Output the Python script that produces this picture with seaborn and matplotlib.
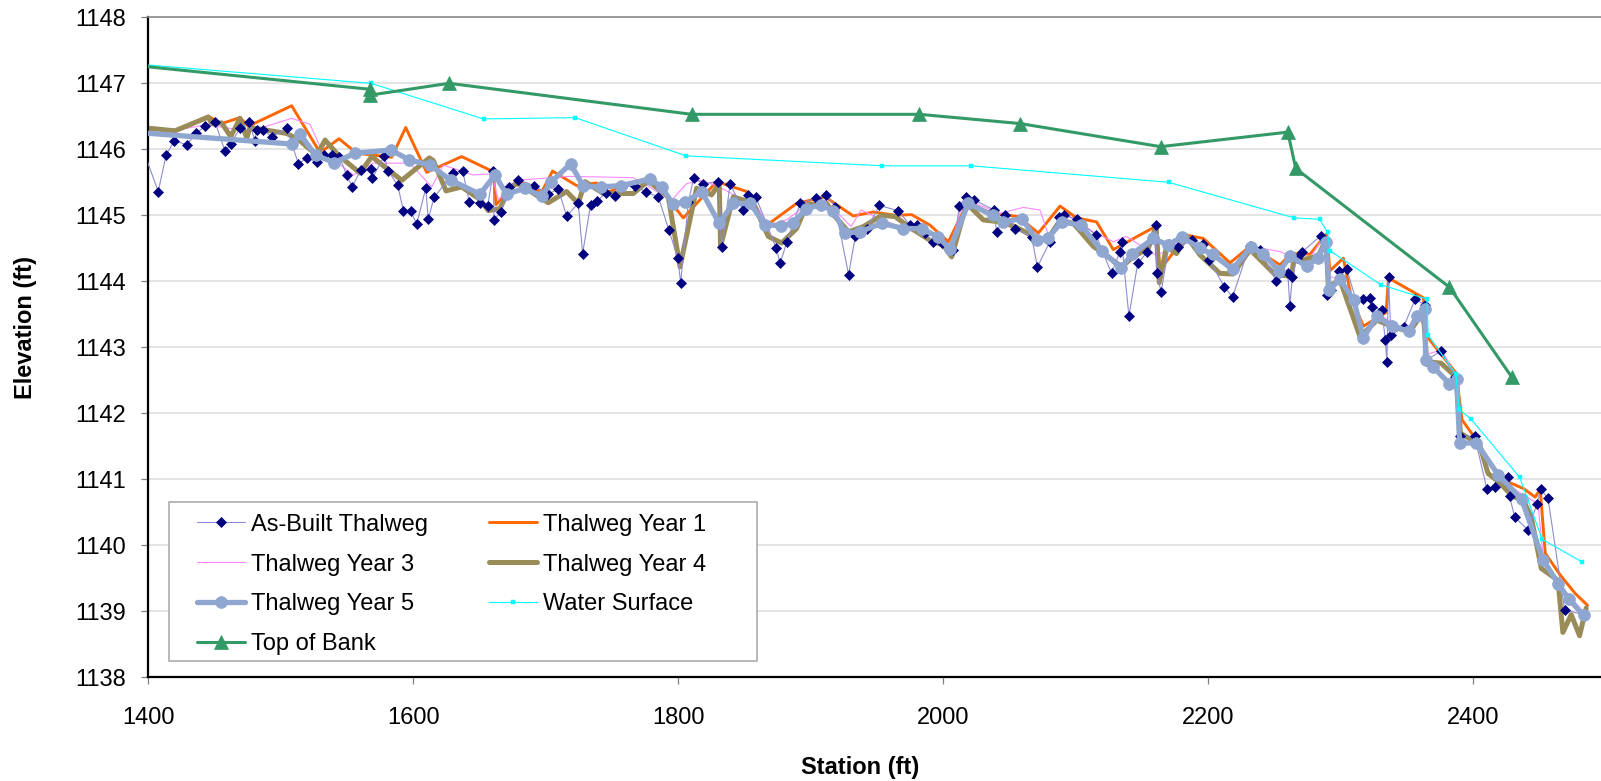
import matplotlib
matplotlib.use("Agg")
import matplotlib.pyplot as plt
import numpy as np
import pandas as pd
import seaborn as sns
from matplotlib.patches import Rectangle

# ---------------- survey data (station ft, elevation ft) ----------------
asbuilt_sta = [1396, 1407.5, 1413.4, 1419.6, 1429.0, 1436.0, 1442.8, 1450.3, 1457.9, 1462.2,
               1469.2, 1476.2, 1480.5, 1481.8, 1486.8, 1493.1, 1504.5, 1513.3, 1519.6, 1527.1,
               1532.8, 1538.9, 1544.2, 1549.7, 1553.9, 1560.3, 1568.0, 1569.0, 1578.1, 1581.1,
               1588.2, 1592.5, 1598.0, 1602.6, 1609.4, 1611.3, 1615.6, 1630.2, 1637.3, 1642.3,
               1650.3, 1656.1, 1660.4, 1660.9, 1666.0, 1672.5, 1679.2, 1691.1, 1701.9, 1709.4,
               1715.7, 1724.5, 1727.8, 1733.8, 1738.9, 1745.4, 1752.2, 1757.2, 1767.3, 1775.6,
               1784.9, 1793.0, 1799.5, 1801.8, 1807.6, 1811.5, 1819.0, 1830.3, 1832.8, 1839.1,
               1848.7, 1852.5, 1858.5, 1873.9, 1876.9, 1881.9, 1892.0, 1904.1, 1911.7, 1918.5,
               1928.5, 1933.6, 1942.3, 1951.7, 1965.8, 1974.6, 1980.1, 1986.2, 1992.5, 1998.7,
               2007.5, 2012.1, 2017.1, 2023.4, 2038.5, 2040.2, 2046.8, 2054.1, 2066.7, 2071.0,
               2080.5, 2087.5, 2091.3, 2100.6, 2115.2, 2127.0, 2133.3, 2134.6, 2140.1, 2146.7,
               2154.0, 2160.6, 2161.0, 2164.4, 2170.6, 2177.4, 2187.5, 2195.7, 2200.9, 2212.0,
               2218.3, 2231.1, 2239.2, 2251.2, 2260.0, 2261.5, 2263.5, 2266.9, 2270.5, 2284.8,
               2288.2, 2289.9, 2292.4, 2299.0, 2304.5, 2311.6, 2317.1, 2321.7, 2323.4, 2331.0,
               2333.6, 2334.8, 2336.0, 2337.8, 2347.4, 2356.2, 2363.8, 2364.5, 2375.9, 2386.0,
               2389.7, 2401.0, 2410.3, 2416.6, 2426.2, 2427.4, 2431.2, 2441.3, 2448.1, 2450.8,
               2456.4, 2468.9, 2483.3]
asbuilt_elev = [1146.00, 1145.36, 1145.91, 1146.13, 1146.07, 1146.24, 1146.35, 1146.42, 1145.97, 1146.08,
                1146.32, 1146.41, 1146.13, 1146.30, 1146.29, 1146.19, 1146.32, 1145.78, 1145.87, 1145.81,
                1145.91, 1145.91, 1145.89, 1145.61, 1145.43, 1145.69, 1145.70, 1145.56, 1145.90, 1145.67,
                1145.46, 1145.07, 1145.06, 1144.87, 1145.41, 1144.94, 1145.27, 1145.64, 1145.67, 1145.20,
                1145.19, 1145.14, 1145.67, 1144.93, 1145.05, 1145.43, 1145.54, 1145.45, 1145.32, 1145.40,
                1144.99, 1145.18, 1144.42, 1145.16, 1145.22, 1145.34, 1145.30, 1145.43, 1145.45, 1145.35,
                1145.28, 1144.77, 1144.36, 1143.98, 1145.20, 1145.56, 1145.48, 1145.51, 1144.52, 1145.48,
                1145.08, 1145.31, 1145.28, 1144.50, 1144.27, 1144.60, 1145.18, 1145.26, 1145.31, 1145.13,
                1144.10, 1144.68, 1144.79, 1145.15, 1145.07, 1144.86, 1144.86, 1144.73, 1144.60, 1144.58,
                1144.47, 1145.14, 1145.28, 1145.23, 1145.08, 1144.74, 1145.00, 1144.80, 1144.67, 1144.22,
                1144.60, 1144.98, 1145.01, 1144.94, 1144.70, 1144.12, 1144.45, 1144.60, 1143.47, 1144.27,
                1144.45, 1144.85, 1144.13, 1143.84, 1144.57, 1144.52, 1144.62, 1144.57, 1144.32, 1143.92,
                1143.76, 1144.54, 1144.48, 1144.00, 1144.13, 1143.63, 1144.07, 1144.36, 1144.44, 1144.69,
                1144.60, 1143.79, 1143.87, 1144.16, 1144.18, 1143.71, 1143.73, 1143.74, 1143.61, 1143.57,
                1143.11, 1142.78, 1144.06, 1143.18, 1143.31, 1143.73, 1143.64, 1142.80, 1142.95, 1142.55,
                1141.66, 1141.65, 1140.85, 1140.88, 1141.03, 1140.74, 1140.43, 1140.23, 1140.63, 1140.86,
                1140.71, 1139.02, 1138.95]

year1_sta = [1400, 1420.2, 1445.3, 1455.4, 1469.2, 1475.5, 1508.2, 1529.6, 1543.9, 1557.3,
             1583.7, 1594.3, 1610.1, 1636.5, 1660.4, 1662.4, 1678.0, 1696.8, 1705.1, 1723.3,
             1738.4, 1743.4, 1776.1, 1791.2, 1803.8, 1829.0, 1851.7, 1865.5, 1889.3, 1910.7,
             1932.1, 1947.2, 1963.6, 1976.1, 1990.0, 2003.8, 2017.6, 2037.7, 2056.6, 2071.7,
             2088.1, 2100.6, 2115.7, 2128.3, 2161.0, 2163.5, 2183.6, 2196.2, 2216.4, 2231.5,
             2254.1, 2262.8, 2276.7, 2289.3, 2291.8, 2301.9, 2308.2, 2317.1, 2334.2, 2336.0,
             2362.3, 2364.8, 2387.0, 2391.5, 2401.5, 2420.3, 2437.9, 2446.7, 2450.5, 2454.3,
             2465.6, 2476.9, 2486.2]
year1_elev = [1146.32, 1146.29, 1146.50, 1146.39, 1146.48, 1146.35, 1146.66, 1145.95, 1146.16, 1145.94,
              1145.88, 1146.33, 1145.65, 1145.89, 1145.66, 1145.16, 1145.53, 1145.35, 1145.67, 1145.45,
              1145.49, 1145.33, 1145.56, 1145.28, 1144.96, 1145.51, 1145.36, 1144.83, 1145.18, 1145.28,
              1144.99, 1145.05, 1145.00, 1145.01, 1144.85, 1144.60, 1145.16, 1145.03, 1144.98, 1144.73,
              1145.14, 1144.96, 1144.90, 1144.48, 1144.84, 1144.17, 1144.70, 1144.65, 1144.28, 1144.53,
              1144.25, 1144.42, 1144.41, 1144.72, 1144.16, 1144.35, 1143.73, 1143.32, 1143.53, 1144.05,
              1143.75, 1143.17, 1142.61, 1141.90, 1141.62, 1141.01, 1140.86, 1140.73, 1140.85, 1139.88,
              1139.55, 1139.27, 1139.09]

year3_sta = [1400, 1444.0, 1476.8, 1508.2, 1522.0, 1530.8, 1554.7, 1569.8, 1586.2, 1597.5,
             1613.9, 1622.6, 1645.3, 1659.2, 1664.2, 1678.0, 1717.7, 1766.0, 1795.0, 1806.3,
             1817.6, 1830.8, 1844.8, 1856.6, 1867.9, 1881.7, 1896.9, 1910.7, 1930.4, 1937.9,
             1954.3, 1967.3, 1990.0, 2005.0, 2013.8, 2023.9, 2042.8, 2060.4, 2073.0, 2079.3,
             2090.6, 2113.2, 2128.3, 2138.3, 2159.8, 2168.5, 2181.1, 2193.7, 2211.1, 2218.8,
             2231.5, 2254.1, 2274.2, 2285.5, 2291.8, 2300.7, 2309.5, 2318.3, 2330.8, 2349.7,
             2357.2, 2362.3, 2364.3, 2376.1, 2387.0, 2389.7, 2402.4, 2418.7, 2437.9, 2448.8,
             2452.7, 2464.0, 2475.4, 2484.0]
year3_elev = [1146.22, 1146.37, 1146.27, 1146.47, 1146.38, 1145.99, 1145.61, 1145.79, 1145.79, 1145.79,
              1145.43, 1145.76, 1145.61, 1145.63, 1145.23, 1145.53, 1145.59, 1145.57, 1145.23, 1145.48,
              1145.53, 1145.43, 1145.28, 1145.23, 1144.85, 1144.93, 1145.16, 1145.23, 1144.83, 1145.08,
              1144.93, 1144.83, 1144.65, 1144.50, 1145.13, 1145.18, 1145.03, 1145.12, 1145.08, 1144.70,
              1145.03, 1144.75, 1144.60, 1144.68, 1144.40, 1144.45, 1144.65, 1144.53, 1144.32, 1144.20,
              1144.53, 1144.45, 1144.27, 1144.63, 1144.07, 1144.02, 1143.62, 1143.16, 1143.47, 1143.24,
              1143.54, 1143.32, 1142.89, 1142.96, 1142.56, 1141.70, 1141.57, 1141.02, 1140.76, 1140.63,
              1139.83, 1139.42, 1139.17, 1138.97]

year4_sta = [1400, 1420.2, 1445.3, 1447.8, 1455.4, 1462.2, 1469.2, 1474.3, 1476.8, 1504.5,
             1513.8, 1527.1, 1533.4, 1543.5, 1559.8, 1568.6, 1591.3, 1612.1, 1615.1, 1624.7,
             1636.5, 1650.3, 1656.6, 1665.4, 1673.0, 1679.2, 1701.9, 1715.7, 1724.5, 1729.6,
             1743.4, 1766.0, 1777.3, 1792.4, 1801.3, 1813.8, 1825.1, 1830.9, 1831.9, 1841.5,
             1856.6, 1867.9, 1878.0, 1889.3, 1896.9, 1912.0, 1918.3, 1928.5, 1939.8, 1953.6,
             1963.7, 1973.7, 1990.0, 2000.0, 2006.3, 2017.6, 2030.2, 2042.8, 2054.1, 2067.9,
             2078.0, 2088.1, 2098.1, 2113.2, 2125.8, 2134.6, 2143.4, 2154.7, 2160.5, 2163.0,
             2168.5, 2176.0, 2183.6, 2193.7, 2208.8, 2218.8, 2231.5, 2250.0, 2262.9, 2264.9,
             2271.7, 2283.0, 2288.8, 2290.6, 2299.4, 2314.5, 2327.1, 2342.2, 2352.2, 2362.3,
             2364.8, 2375.6, 2387.0, 2390.3, 2404.8, 2411.1, 2418.6, 2429.9, 2437.5, 2443.7,
             2451.3, 2463.9, 2467.6, 2473.9, 2480.2, 2485.2]
year4_elev = [1146.32, 1146.28, 1146.49, 1146.39, 1146.40, 1146.19, 1146.47, 1146.17, 1146.33, 1146.24,
              1146.14, 1145.91, 1146.14, 1145.91, 1145.64, 1145.89, 1145.53, 1145.87, 1145.83, 1145.37,
              1145.43, 1145.24, 1145.07, 1145.10, 1145.43, 1145.48, 1145.19, 1145.36, 1145.18, 1145.51,
              1145.33, 1145.33, 1145.52, 1145.28, 1144.22, 1145.41, 1145.31, 1145.48, 1144.53, 1145.28,
              1145.18, 1144.68, 1144.58, 1144.80, 1145.16, 1145.18, 1144.98, 1144.75, 1144.83, 1145.00,
              1144.98, 1144.83, 1144.62, 1144.55, 1144.37, 1145.18, 1144.93, 1144.90, 1144.83, 1144.68,
              1144.62, 1144.92, 1144.88, 1144.53, 1144.35, 1144.22, 1144.37, 1144.50, 1144.83, 1143.98,
              1144.53, 1144.42, 1144.68, 1144.40, 1144.12, 1144.11, 1144.48, 1144.11, 1144.07, 1144.40,
              1144.33, 1144.38, 1144.64, 1143.92, 1144.02, 1143.16, 1143.41, 1143.29, 1143.24, 1143.54,
              1142.78, 1142.76, 1142.55, 1141.70, 1141.52, 1141.09, 1140.97, 1140.74, 1140.69, 1140.43,
              1139.65, 1139.47, 1138.68, 1138.95, 1138.63, 1139.05]

year5_sta = [1395, 1508.2, 1514.5, 1526.3, 1540.4, 1556.0, 1582.9, 1597.0, 1612.6, 1628.5,
             1650.3, 1661.6, 1670.4, 1684.3, 1696.8, 1704.3, 1718.7, 1728.3, 1741.4, 1756.8,
             1778.7, 1787.5, 1795.8, 1805.1, 1817.7, 1830.8, 1841.6, 1854.2, 1865.5, 1877.3,
             1886.8, 1896.4, 1907.7, 1917.0, 1925.8, 1937.1, 1953.5, 1969.8, 1983.6, 1996.2,
             2005.0, 2018.9, 2037.2, 2045.3, 2059.1, 2071.0, 2078.8, 2089.4, 2104.0, 2119.6,
             2134.2, 2142.3, 2158.6, 2169.4, 2180.0, 2193.9, 2203.2, 2218.3, 2232.0, 2241.5,
             2253.5, 2262.0, 2274.2, 2283.0, 2288.8, 2291.3, 2299.4, 2309.9, 2317.0, 2327.0,
             2338.3, 2351.7, 2357.2, 2363.5, 2364.0, 2369.8, 2381.9, 2387.4, 2389.7, 2402.4,
             2418.7, 2436.4, 2452.7, 2464.0, 2472.3, 2483.3]
year5_elev = [1146.25, 1146.08, 1146.23, 1145.91, 1145.80, 1145.94, 1145.99, 1145.84, 1145.76, 1145.53,
              1145.32, 1145.61, 1145.32, 1145.41, 1145.29, 1145.51, 1145.78, 1145.44, 1145.43, 1145.45,
              1145.55, 1145.43, 1145.17, 1145.20, 1145.36, 1144.88, 1145.18, 1145.18, 1144.86, 1144.84,
              1144.88, 1145.10, 1145.16, 1145.07, 1144.73, 1144.75, 1144.88, 1144.80, 1144.80, 1144.67,
              1144.49, 1145.18, 1145.00, 1144.90, 1144.95, 1144.62, 1144.65, 1144.90, 1144.85, 1144.46,
              1144.20, 1144.41, 1144.65, 1144.55, 1144.67, 1144.50, 1144.41, 1144.18, 1144.52, 1144.42,
              1144.15, 1144.38, 1144.23, 1144.36, 1144.60, 1143.87, 1144.03, 1143.71, 1143.14, 1143.47,
              1143.33, 1143.24, 1143.47, 1143.58, 1142.81, 1142.70, 1142.45, 1142.52, 1141.55, 1141.55,
              1141.07, 1140.70, 1139.78, 1139.42, 1139.18, 1138.94]

water_sta = [1380, 1568, 1653, 1722, 1806, 1954, 2021, 2170, 2265, 2284, 2290, 2292,
             2330, 2365, 2366, 2387, 2389, 2398, 2435, 2452, 2482]
water_elev = [1147.31, 1147.00, 1146.46, 1146.48, 1145.90, 1145.75, 1145.75, 1145.50, 1144.96, 1144.94,
              1144.74, 1144.46, 1143.95, 1143.73, 1143.18, 1142.59, 1142.06, 1141.92, 1141.03, 1140.09,
              1139.75]

bank_sta = [1380, 1567, 1567, 1627, 1810, 1982, 2058, 2164, 2260, 2266, 2382, 2429]
bank_elev = [1147.29, 1146.91, 1146.82, 1147.00, 1146.53, 1146.53, 1146.39, 1146.04, 1146.26, 1145.71,
             1143.91, 1142.55]

x_ticks = [1400, 1600, 1800, 2000, 2200, 2400]
y_ticks = [1138, 1139, 1140, 1141, 1142, 1143, 1144, 1145, 1146, 1147, 1148]

# ---------------- styling ----------------
sns.set_theme(style="white")
plt.rcParams["font.family"] = ["Liberation Sans", "DejaVu Sans"]

W, H = 1601, 781
fig = plt.figure(figsize=(W / 100, H / 100), dpi=100)
left, right, top, bottom = 148.3, 1601.0, 17.3, 677.3
ax = fig.add_axes([left / W, 1 - bottom / H, (right - left) / W, (bottom - top) / H])


def series(sta, elev, **kw):
    df = pd.DataFrame({"Station": sta, "Elevation": elev})
    sns.lineplot(data=df, x="Station", y="Elevation", sort=False, estimator=None,
                 ax=ax, legend=False, **kw)
    return ax.lines[-1]


h_y1 = series(year1_sta, year1_elev, color="#FF6600", linewidth=2.1, zorder=2)
h_y3 = series(year3_sta, year3_elev, color="#FF88FF", linewidth=0.8, zorder=2)
h_y4 = series(year4_sta, year4_elev, color="#9A8C58", linewidth=3.6, zorder=2)
h_ab = series(asbuilt_sta, asbuilt_elev, color="#8C8CD0", linewidth=0.8, marker="D",
              markersize=5.4, markerfacecolor="#000080", markeredgecolor="#000080",
              markeredgewidth=0.5, zorder=3)
h_y5 = series(year5_sta, year5_elev, color="#8EA6D0", linewidth=3.8, marker="o",
              markersize=8.5, markerfacecolor="#8EA6D0", markeredgecolor="#8EA6D0",
              markeredgewidth=0.5, zorder=4)
h_ws = series(water_sta, water_elev, color="#00FFFF", linewidth=0.8, marker="s",
              markersize=3.2, markerfacecolor="#00FFFF", markeredgecolor="#00FFFF",
              markeredgewidth=0.3, zorder=5)
h_tb = series(bank_sta, bank_elev, color="#339966", linewidth=2.2, marker="^",
              markersize=10, markerfacecolor="#339966", markeredgecolor="#339966",
              markeredgewidth=0.5, zorder=6)

ax.set_xlim(1400, 1400 + (right - left) / 1.325)
ax.set_ylim(1138, 1148)
ax.set_xticks(x_ticks)
ax.set_yticks(y_ticks)
ax.set_xticklabels([str(v) for v in x_ticks])
ax.set_yticklabels([str(v) for v in y_ticks])

ax.yaxis.grid(True, color="#DCDCDC", linewidth=1.1)
ax.xaxis.grid(False)
ax.set_axisbelow(True)

for side in ("left", "bottom"):
    ax.spines[side].set_color("black")
    ax.spines[side].set_linewidth(1.6)
ax.spines["top"].set_color("#8C8C8C")
ax.spines["top"].set_linewidth(1.2)
ax.spines["right"].set_visible(False)

ax.tick_params(axis="both", which="major", direction="out", length=4.8, width=0.9,
               color="#808080", labelsize=17, labelcolor="black")
ax.tick_params(axis="y", pad=11.3, left=True)
ax.tick_params(axis="x", pad=16.5, bottom=True)

ax.set_xlabel("Station (ft)", fontsize=17, fontweight="bold", color="black")
ax.set_ylabel("Elevation (ft)", fontsize=17, fontweight="bold", color="black")
ax.xaxis.set_label_coords(0.49, -0.1185)
ax.yaxis.set_label_coords(-0.0766, 0.53)

# legend box and entries
frame = Rectangle((169.3 / W, 1 - 661.3 / H), 587.5 / W, 159 / H, transform=fig.transFigure,
                  facecolor="white", edgecolor="#A6A6A6", linewidth=1.1, zorder=8,
                  clip_on=False)
ax.add_patch(frame)

handles = [h_ab, h_y3, h_y5, h_tb, h_y1, h_y4, h_ws]
labels = ["As-Built Thalweg", "Thalweg Year 3", "Thalweg Year 5", "Top of Bank",
          "Thalweg Year 1", "Thalweg Year 4", "Water Surface"]
leg = ax.legend(handles, labels, ncol=2, frameon=False, loc="upper left",
                bbox_to_anchor=((197 - left) / (right - left), (bottom - 513.6) / (bottom - top)),
                borderaxespad=0, borderpad=0, handlelength=2.05, handletextpad=0.25,
                columnspacing=2.55, labelspacing=0.76, fontsize=17)
leg.set_zorder(9)
for t in leg.get_texts():
    t.set_color("black")

fig.savefig("out.png", dpi=100, facecolor="white")
